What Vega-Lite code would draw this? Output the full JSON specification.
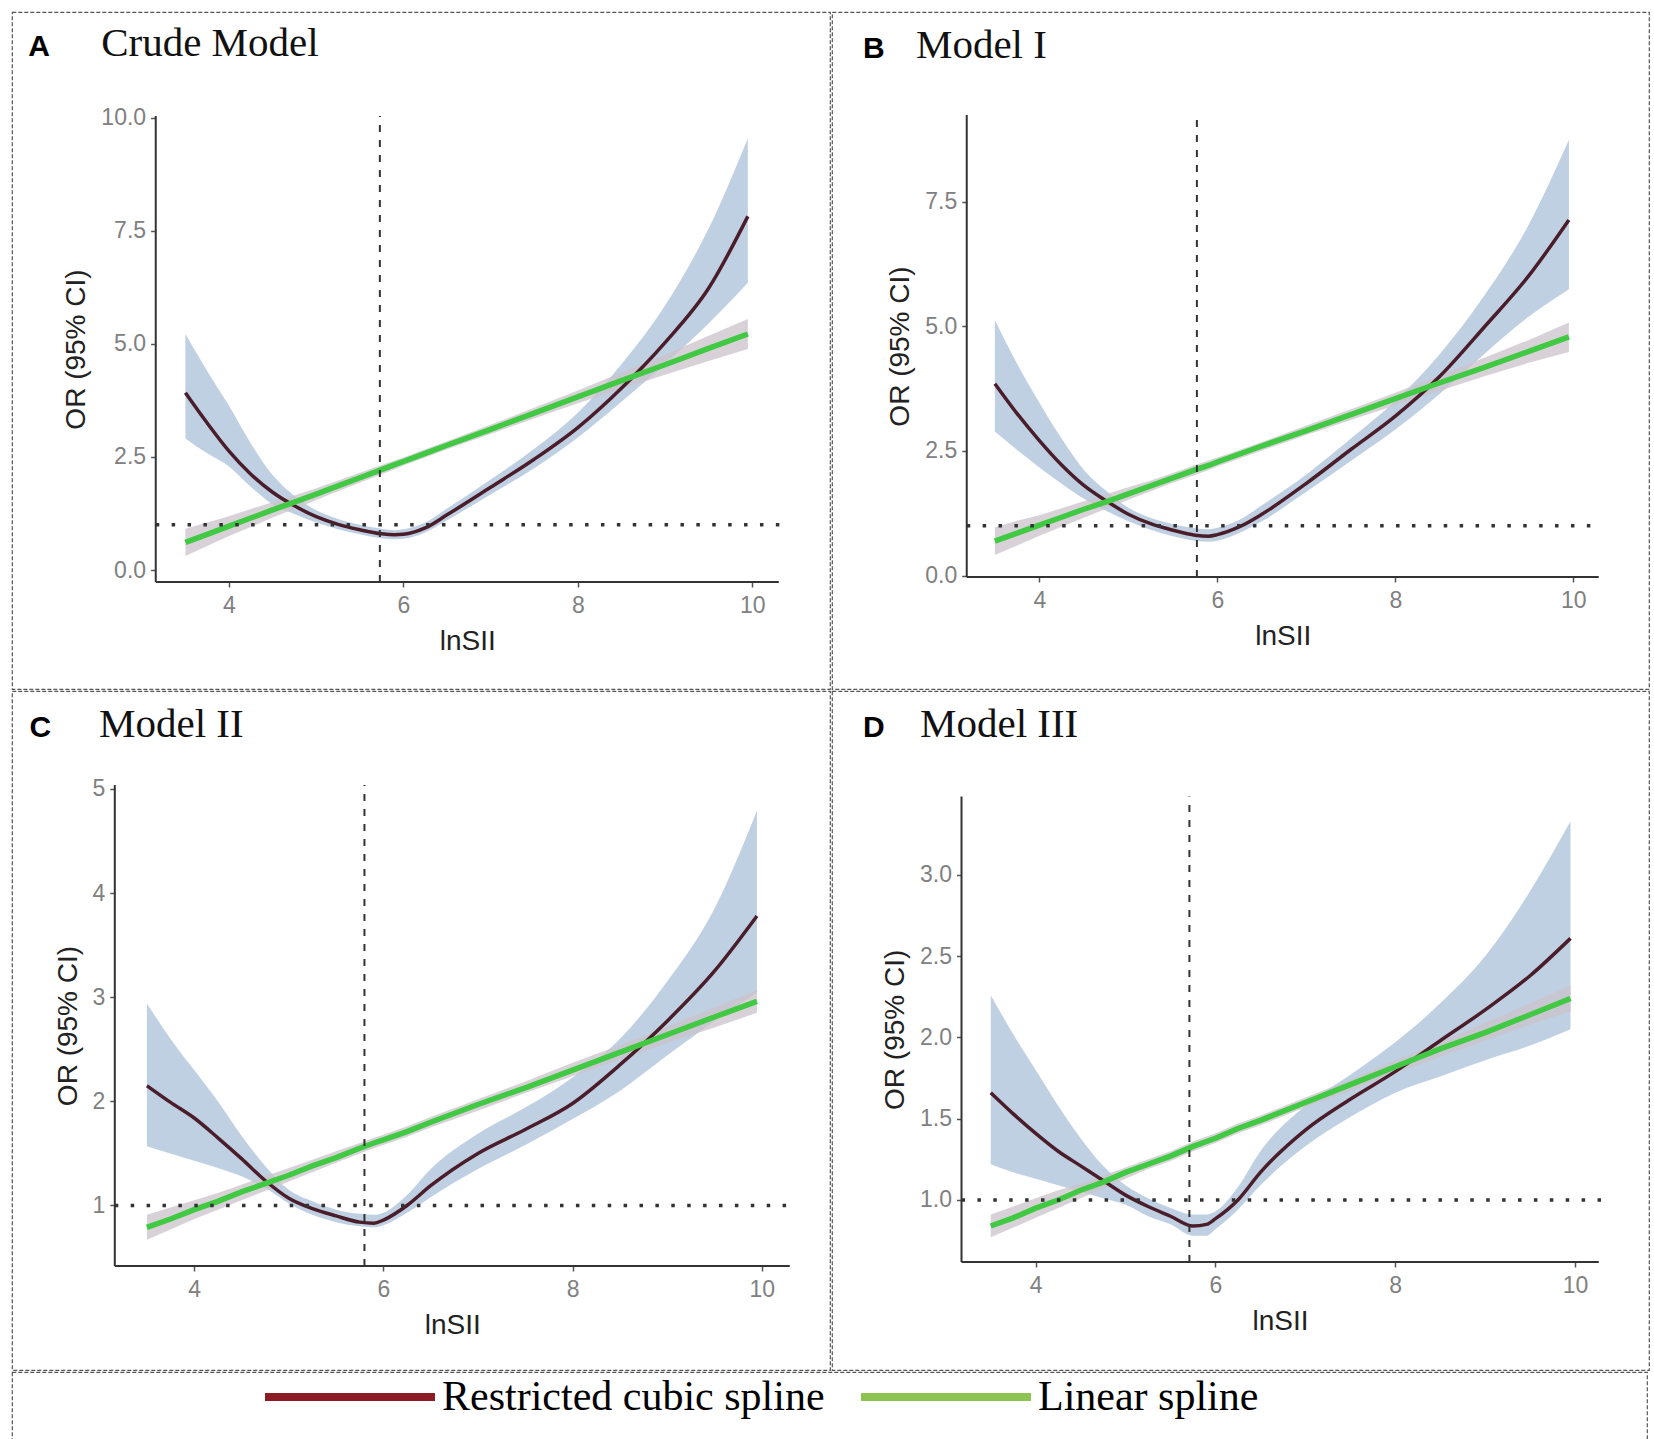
{
  "$schema": "https://vega.github.io/schema/vega-lite/v6.json",
  "background": "white",
  "padding": {"left": 11, "top": 11, "right": 0, "bottom": 0},
  "spacing": 0,
  "resolve": {"scale": {"color": "independent"}, "legend": {"color": "independent"}},
  "datasets": {
    "A": [
      {"x": 3.5, "rcs": 3.92, "rcs_lo": 2.91, "rcs_hi": 5.22, "lin": 0.61, "lin_lo": 0.31, "lin_hi": 0.91},
      {"x": 3.75, "rcs": 3.25, "rcs_lo": 2.58, "rcs_hi": 4.40, "lin": 0.79, "lin_lo": 0.53, "lin_hi": 1.05},
      {"x": 4.0, "rcs": 2.63, "rcs_lo": 2.29, "rcs_hi": 3.63, "lin": 0.97, "lin_lo": 0.75, "lin_hi": 1.19},
      {"x": 4.25, "rcs": 2.12, "rcs_lo": 1.84, "rcs_hi": 2.80, "lin": 1.15, "lin_lo": 0.95, "lin_hi": 1.35},
      {"x": 4.5, "rcs": 1.72, "rcs_lo": 1.45, "rcs_hi": 2.10, "lin": 1.33, "lin_lo": 1.16, "lin_hi": 1.50},
      {"x": 4.75, "rcs": 1.42, "rcs_lo": 1.24, "rcs_hi": 1.64, "lin": 1.50, "lin_lo": 1.35, "lin_hi": 1.65},
      {"x": 5.0, "rcs": 1.18, "rcs_lo": 1.05, "rcs_hi": 1.32, "lin": 1.68, "lin_lo": 1.55, "lin_hi": 1.81},
      {"x": 5.25, "rcs": 1.01, "rcs_lo": 0.90, "rcs_hi": 1.13, "lin": 1.86, "lin_lo": 1.74, "lin_hi": 1.98},
      {"x": 5.5, "rcs": 0.89, "rcs_lo": 0.79, "rcs_hi": 1.00, "lin": 2.04, "lin_lo": 1.93, "lin_hi": 2.15},
      {"x": 5.75, "rcs": 0.80, "rcs_lo": 0.70, "rcs_hi": 0.91, "lin": 2.22, "lin_lo": 2.12, "lin_hi": 2.32},
      {"x": 5.9, "rcs": 0.78, "rcs_lo": 0.68, "rcs_hi": 0.88, "lin": 2.33, "lin_lo": 2.23, "lin_hi": 2.42},
      {"x": 6.0, "rcs": 0.79, "rcs_lo": 0.69, "rcs_hi": 0.90, "lin": 2.40, "lin_lo": 2.31, "lin_hi": 2.49},
      {"x": 6.25, "rcs": 0.93, "rcs_lo": 0.83, "rcs_hi": 1.05, "lin": 2.58, "lin_lo": 2.49, "lin_hi": 2.67},
      {"x": 6.5, "rcs": 1.22, "rcs_lo": 1.10, "rcs_hi": 1.36, "lin": 2.76, "lin_lo": 2.67, "lin_hi": 2.85},
      {"x": 7.0, "rcs": 1.83, "rcs_lo": 1.67, "rcs_hi": 2.00, "lin": 3.11, "lin_lo": 3.01, "lin_hi": 3.21},
      {"x": 7.5, "rcs": 2.45, "rcs_lo": 2.25, "rcs_hi": 2.68, "lin": 3.47, "lin_lo": 3.35, "lin_hi": 3.59},
      {"x": 8.0, "rcs": 3.15, "rcs_lo": 2.93, "rcs_hi": 3.48, "lin": 3.83, "lin_lo": 3.69, "lin_hi": 3.97},
      {"x": 8.5, "rcs": 4.02, "rcs_lo": 3.72, "rcs_hi": 4.55, "lin": 4.19, "lin_lo": 4.01, "lin_hi": 4.37},
      {"x": 9.0, "rcs": 5.03, "rcs_lo": 4.55, "rcs_hi": 5.85, "lin": 4.54, "lin_lo": 4.32, "lin_hi": 4.76},
      {"x": 9.5, "rcs": 6.23, "rcs_lo": 5.45, "rcs_hi": 7.55, "lin": 4.90, "lin_lo": 4.62, "lin_hi": 5.18},
      {"x": 9.95, "rcs": 7.82, "rcs_lo": 6.35, "rcs_hi": 9.55, "lin": 5.22, "lin_lo": 4.89, "lin_hi": 5.55}
    ],
    "B": [
      {"x": 3.5, "rcs": 3.85, "rcs_lo": 2.89, "rcs_hi": 5.13, "lin": 0.69, "lin_lo": 0.41, "lin_hi": 0.97},
      {"x": 3.75, "rcs": 3.25, "rcs_lo": 2.52, "rcs_hi": 4.25, "lin": 0.85, "lin_lo": 0.60, "lin_hi": 1.10},
      {"x": 4.0, "rcs": 2.71, "rcs_lo": 2.17, "rcs_hi": 3.47, "lin": 1.01, "lin_lo": 0.80, "lin_hi": 1.21},
      {"x": 4.25, "rcs": 2.22, "rcs_lo": 1.84, "rcs_hi": 2.75, "lin": 1.17, "lin_lo": 0.98, "lin_hi": 1.35},
      {"x": 4.5, "rcs": 1.81, "rcs_lo": 1.54, "rcs_hi": 2.12, "lin": 1.33, "lin_lo": 1.16, "lin_hi": 1.49},
      {"x": 4.75, "rcs": 1.50, "rcs_lo": 1.30, "rcs_hi": 1.70, "lin": 1.48, "lin_lo": 1.34, "lin_hi": 1.63},
      {"x": 5.0, "rcs": 1.23, "rcs_lo": 1.09, "rcs_hi": 1.36, "lin": 1.64, "lin_lo": 1.52, "lin_hi": 1.77},
      {"x": 5.25, "rcs": 1.04, "rcs_lo": 0.92, "rcs_hi": 1.16, "lin": 1.80, "lin_lo": 1.69, "lin_hi": 1.91},
      {"x": 5.5, "rcs": 0.91, "rcs_lo": 0.79, "rcs_hi": 1.03, "lin": 1.96, "lin_lo": 1.86, "lin_hi": 2.06},
      {"x": 5.75, "rcs": 0.81, "rcs_lo": 0.70, "rcs_hi": 0.95, "lin": 2.12, "lin_lo": 2.02, "lin_hi": 2.22},
      {"x": 5.9, "rcs": 0.79, "rcs_lo": 0.68, "rcs_hi": 0.93, "lin": 2.21, "lin_lo": 2.12, "lin_hi": 2.31},
      {"x": 6.0, "rcs": 0.82, "rcs_lo": 0.70, "rcs_hi": 0.96, "lin": 2.28, "lin_lo": 2.19, "lin_hi": 2.37},
      {"x": 6.25, "rcs": 0.98, "rcs_lo": 0.86, "rcs_hi": 1.12, "lin": 2.44, "lin_lo": 2.35, "lin_hi": 2.52},
      {"x": 6.5, "rcs": 1.23, "rcs_lo": 1.09, "rcs_hi": 1.41, "lin": 2.60, "lin_lo": 2.51, "lin_hi": 2.68},
      {"x": 7.0, "rcs": 1.85, "rcs_lo": 1.68, "rcs_hi": 2.03, "lin": 2.91, "lin_lo": 2.82, "lin_hi": 3.01},
      {"x": 7.5, "rcs": 2.53, "rcs_lo": 2.30, "rcs_hi": 2.75, "lin": 3.23, "lin_lo": 3.12, "lin_hi": 3.34},
      {"x": 8.0, "rcs": 3.20, "rcs_lo": 2.93, "rcs_hi": 3.51, "lin": 3.55, "lin_lo": 3.42, "lin_hi": 3.67},
      {"x": 8.5, "rcs": 4.00, "rcs_lo": 3.65, "rcs_hi": 4.45, "lin": 3.87, "lin_lo": 3.71, "lin_hi": 4.02},
      {"x": 9.0, "rcs": 4.99, "rcs_lo": 4.45, "rcs_hi": 5.62, "lin": 4.18, "lin_lo": 4.00, "lin_hi": 4.37},
      {"x": 9.5, "rcs": 6.02, "rcs_lo": 5.20, "rcs_hi": 7.05, "lin": 4.50, "lin_lo": 4.27, "lin_hi": 4.73},
      {"x": 9.95, "rcs": 7.14, "rcs_lo": 5.75, "rcs_hi": 8.75, "lin": 4.79, "lin_lo": 4.49, "lin_hi": 5.08}
    ],
    "C": [
      {"x": 3.5, "rcs": 2.15, "rcs_lo": 1.57, "rcs_hi": 2.94, "lin": 0.79, "lin_lo": 0.67, "lin_hi": 0.91},
      {"x": 3.75, "rcs": 1.99, "rcs_lo": 1.50, "rcs_hi": 2.60, "lin": 0.87, "lin_lo": 0.77, "lin_hi": 0.98},
      {"x": 4.0, "rcs": 1.84, "rcs_lo": 1.43, "rcs_hi": 2.30, "lin": 0.96, "lin_lo": 0.87, "lin_hi": 1.05},
      {"x": 4.25, "rcs": 1.65, "rcs_lo": 1.36, "rcs_hi": 2.00, "lin": 1.04, "lin_lo": 0.96, "lin_hi": 1.12},
      {"x": 4.5, "rcs": 1.45, "rcs_lo": 1.28, "rcs_hi": 1.67, "lin": 1.13, "lin_lo": 1.05, "lin_hi": 1.20},
      {"x": 4.75, "rcs": 1.24, "rcs_lo": 1.17, "rcs_hi": 1.38, "lin": 1.21, "lin_lo": 1.14, "lin_hi": 1.28},
      {"x": 5.0, "rcs": 1.07, "rcs_lo": 1.02, "rcs_hi": 1.15, "lin": 1.29, "lin_lo": 1.23, "lin_hi": 1.36},
      {"x": 5.25, "rcs": 0.97, "rcs_lo": 0.91, "rcs_hi": 1.04, "lin": 1.38, "lin_lo": 1.32, "lin_hi": 1.44},
      {"x": 5.5, "rcs": 0.90, "rcs_lo": 0.84, "rcs_hi": 0.96, "lin": 1.46, "lin_lo": 1.41, "lin_hi": 1.52},
      {"x": 5.75, "rcs": 0.84, "rcs_lo": 0.80, "rcs_hi": 0.92, "lin": 1.55, "lin_lo": 1.50, "lin_hi": 1.60},
      {"x": 5.9, "rcs": 0.83, "rcs_lo": 0.79, "rcs_hi": 0.91, "lin": 1.60, "lin_lo": 1.55, "lin_hi": 1.65},
      {"x": 6.0, "rcs": 0.86, "rcs_lo": 0.81, "rcs_hi": 0.93, "lin": 1.63, "lin_lo": 1.58, "lin_hi": 1.68},
      {"x": 6.25, "rcs": 1.00, "rcs_lo": 0.93, "rcs_hi": 1.10, "lin": 1.71, "lin_lo": 1.66, "lin_hi": 1.76},
      {"x": 6.5, "rcs": 1.19, "rcs_lo": 1.08, "rcs_hi": 1.35, "lin": 1.80, "lin_lo": 1.75, "lin_hi": 1.85},
      {"x": 7.0, "rcs": 1.50, "rcs_lo": 1.35, "rcs_hi": 1.69, "lin": 1.97, "lin_lo": 1.91, "lin_hi": 2.02},
      {"x": 7.5, "rcs": 1.73, "rcs_lo": 1.58, "rcs_hi": 1.94, "lin": 2.13, "lin_lo": 2.08, "lin_hi": 2.19},
      {"x": 8.0, "rcs": 1.98, "rcs_lo": 1.83, "rcs_hi": 2.23, "lin": 2.30, "lin_lo": 2.24, "lin_hi": 2.37},
      {"x": 8.5, "rcs": 2.35, "rcs_lo": 2.10, "rcs_hi": 2.60, "lin": 2.47, "lin_lo": 2.40, "lin_hi": 2.54},
      {"x": 9.0, "rcs": 2.77, "rcs_lo": 2.44, "rcs_hi": 3.15, "lin": 2.64, "lin_lo": 2.56, "lin_hi": 2.72},
      {"x": 9.5, "rcs": 3.25, "rcs_lo": 2.77, "rcs_hi": 3.85, "lin": 2.81, "lin_lo": 2.71, "lin_hi": 2.90},
      {"x": 9.95, "rcs": 3.78, "rcs_lo": 3.04, "rcs_hi": 4.79, "lin": 2.96, "lin_lo": 2.85, "lin_hi": 3.07}
    ],
    "D": [
      {"x": 3.5, "rcs": 1.66, "rcs_lo": 1.22, "rcs_hi": 2.26, "lin": 0.84, "lin_lo": 0.77, "lin_hi": 0.91},
      {"x": 3.75, "rcs": 1.53, "rcs_lo": 1.17, "rcs_hi": 2.02, "lin": 0.89, "lin_lo": 0.83, "lin_hi": 0.96},
      {"x": 4.0, "rcs": 1.41, "rcs_lo": 1.13, "rcs_hi": 1.80, "lin": 0.95, "lin_lo": 0.89, "lin_hi": 1.01},
      {"x": 4.25, "rcs": 1.30, "rcs_lo": 1.09, "rcs_hi": 1.58, "lin": 1.00, "lin_lo": 0.95, "lin_hi": 1.06},
      {"x": 4.5, "rcs": 1.21, "rcs_lo": 1.05, "rcs_hi": 1.38, "lin": 1.06, "lin_lo": 1.01, "lin_hi": 1.10},
      {"x": 4.75, "rcs": 1.12, "rcs_lo": 1.01, "rcs_hi": 1.21, "lin": 1.11, "lin_lo": 1.07, "lin_hi": 1.15},
      {"x": 5.0, "rcs": 1.03, "rcs_lo": 0.97, "rcs_hi": 1.09, "lin": 1.17, "lin_lo": 1.13, "lin_hi": 1.20},
      {"x": 5.25, "rcs": 0.96, "rcs_lo": 0.90, "rcs_hi": 1.01, "lin": 1.22, "lin_lo": 1.19, "lin_hi": 1.25},
      {"x": 5.5, "rcs": 0.90, "rcs_lo": 0.85, "rcs_hi": 0.95, "lin": 1.27, "lin_lo": 1.24, "lin_hi": 1.30},
      {"x": 5.75, "rcs": 0.84, "rcs_lo": 0.78, "rcs_hi": 0.91, "lin": 1.33, "lin_lo": 1.30, "lin_hi": 1.36},
      {"x": 5.9, "rcs": 0.85, "rcs_lo": 0.78, "rcs_hi": 0.91, "lin": 1.36, "lin_lo": 1.33, "lin_hi": 1.39},
      {"x": 6.0, "rcs": 0.885, "rcs_lo": 0.82, "rcs_hi": 0.93, "lin": 1.38, "lin_lo": 1.35, "lin_hi": 1.41},
      {"x": 6.25, "rcs": 1.00, "rcs_lo": 0.94, "rcs_hi": 1.08, "lin": 1.44, "lin_lo": 1.41, "lin_hi": 1.47},
      {"x": 6.5, "rcs": 1.17, "rcs_lo": 1.09, "rcs_hi": 1.30, "lin": 1.49, "lin_lo": 1.46, "lin_hi": 1.52},
      {"x": 7.0, "rcs": 1.43, "rcs_lo": 1.33, "rcs_hi": 1.58, "lin": 1.60, "lin_lo": 1.57, "lin_hi": 1.63},
      {"x": 7.5, "rcs": 1.62, "rcs_lo": 1.51, "rcs_hi": 1.77, "lin": 1.71, "lin_lo": 1.67, "lin_hi": 1.74},
      {"x": 8.0, "rcs": 1.79, "rcs_lo": 1.66, "rcs_hi": 1.97, "lin": 1.82, "lin_lo": 1.78, "lin_hi": 1.86},
      {"x": 8.5, "rcs": 1.98, "rcs_lo": 1.76, "rcs_hi": 2.21, "lin": 1.93, "lin_lo": 1.88, "lin_hi": 1.97},
      {"x": 9.0, "rcs": 2.17, "rcs_lo": 1.86, "rcs_hi": 2.50, "lin": 2.03, "lin_lo": 1.98, "lin_hi": 2.09},
      {"x": 9.5, "rcs": 2.38, "rcs_lo": 1.95, "rcs_hi": 2.90, "lin": 2.14, "lin_lo": 2.08, "lin_hi": 2.21},
      {"x": 9.95, "rcs": 2.61, "rcs_lo": 2.05, "rcs_hi": 3.33, "lin": 2.24, "lin_lo": 2.16, "lin_hi": 2.32}
    ]
  },
  "vconcat": [
    {
      "spacing": 0,
      "hconcat": [
        {
          "width": 818,
          "height": 677,
          "view": {"stroke": "#555", "strokeDash": [4, 2], "strokeWidth": 1.2},
          "data": {"name": "A"},
          "layer": [
            {
              "mark": {"type": "area", "interpolate": "monotone", "color": "#b9cbe0", "opacity": 0.9},
              "encoding": {
                "x": {"field": "x", "type": "quantitative", "scale": {"domain": [1.5115, 10.892], "nice": false, "zero": false}, "axis": {"values": [4, 6, 8, 10], "format": "d", "labelFlush": false, "labelPadding": 7, "titlePadding": 10, "domain": false, "offset": -107, "titleX": 455.3}, "title": "lnSII"},
                "y": {"field": "rcs_lo", "type": "quantitative", "scale": {"domain": [-2.631, 12.34], "nice": false, "zero": false}, "axis": {"values": [0, 2.5, 5, 7.5, 10], "format": ".1f", "labelPadding": 5, "titlePadding": 10, "domain": false, "offset": -143.6, "titleY": 337}, "title": "OR (95% CI)"},
                "y2": {"field": "rcs_hi"}
              }
            },
            {
              "mark": {"type": "area", "color": "#cbc3cb", "opacity": 0.75},
              "encoding": {
                "x": {"field": "x", "type": "quantitative", "scale": {"domain": [1.5115, 10.892], "nice": false, "zero": false}, "axis": {"values": [4, 6, 8, 10], "format": "d", "labelFlush": false, "labelPadding": 7, "titlePadding": 10, "domain": false, "offset": -107, "titleX": 455.3}, "title": "lnSII"},
                "y": {"field": "lin_lo", "type": "quantitative", "scale": {"domain": [-2.631, 12.34], "nice": false, "zero": false}, "axis": {"values": [0, 2.5, 5, 7.5, 10], "format": ".1f", "labelPadding": 5, "titlePadding": 10, "domain": false, "offset": -143.6, "titleY": 337}, "title": "OR (95% CI)"},
                "y2": {"field": "lin_hi"}
              }
            },
            {
              "mark": {"type": "line", "interpolate": "monotone", "color": "#4a1d2b", "strokeWidth": 3.5},
              "encoding": {
                "x": {"field": "x", "type": "quantitative", "scale": {"domain": [1.5115, 10.892], "nice": false, "zero": false}, "axis": {"values": [4, 6, 8, 10], "format": "d", "labelFlush": false, "labelPadding": 7, "titlePadding": 10, "domain": false, "offset": -107, "titleX": 455.3}, "title": "lnSII"},
                "y": {"field": "rcs", "type": "quantitative", "scale": {"domain": [-2.631, 12.34], "nice": false, "zero": false}, "axis": {"values": [0, 2.5, 5, 7.5, 10], "format": ".1f", "labelPadding": 5, "titlePadding": 10, "domain": false, "offset": -143.6, "titleY": 337}, "title": "OR (95% CI)"}
              }
            },
            {
              "mark": {"type": "line", "color": "#41c943", "strokeWidth": 5.5},
              "encoding": {
                "x": {"field": "x", "type": "quantitative", "scale": {"domain": [1.5115, 10.892], "nice": false, "zero": false}, "axis": {"values": [4, 6, 8, 10], "format": "d", "labelFlush": false, "labelPadding": 7, "titlePadding": 10, "domain": false, "offset": -107, "titleX": 455.3}, "title": "lnSII"},
                "y": {"field": "lin", "type": "quantitative", "scale": {"domain": [-2.631, 12.34], "nice": false, "zero": false}, "axis": {"values": [0, 2.5, 5, 7.5, 10], "format": ".1f", "labelPadding": 5, "titlePadding": 10, "domain": false, "offset": -143.6, "titleY": 337}, "title": "OR (95% CI)"}
              }
            },
            {
              "data": {"values": [{}]},
              "mark": {"type": "rule", "color": "#333", "strokeWidth": 2},
              "encoding": {
                "x": {"datum": 3.16, "type": "quantitative", "scale": {"domain": [1.5115, 10.892], "nice": false, "zero": false}, "axis": {"values": [4, 6, 8, 10], "format": "d", "labelFlush": false, "labelPadding": 7, "titlePadding": 10, "domain": false, "offset": -107, "titleX": 455.3}, "title": "lnSII"},
                "x2": {"datum": 10.305},
                "y": {"datum": -0.265, "type": "quantitative", "scale": {"domain": [-2.631, 12.34], "nice": false, "zero": false}, "axis": {"values": [0, 2.5, 5, 7.5, 10], "format": ".1f", "labelPadding": 5, "titlePadding": 10, "domain": false, "offset": -143.6, "titleY": 337}, "title": "OR (95% CI)"}
              }
            },
            {
              "data": {"values": [{}]},
              "mark": {"type": "rule", "color": "#333", "strokeWidth": 2},
              "encoding": {
                "x": {"datum": 3.16, "type": "quantitative", "scale": {"domain": [1.5115, 10.892], "nice": false, "zero": false}, "axis": {"values": [4, 6, 8, 10], "format": "d", "labelFlush": false, "labelPadding": 7, "titlePadding": 10, "domain": false, "offset": -107, "titleX": 455.3}, "title": "lnSII"},
                "y": {"datum": -0.265, "type": "quantitative", "scale": {"domain": [-2.631, 12.34], "nice": false, "zero": false}, "axis": {"values": [0, 2.5, 5, 7.5, 10], "format": ".1f", "labelPadding": 5, "titlePadding": 10, "domain": false, "offset": -143.6, "titleY": 337}, "title": "OR (95% CI)"},
                "y2": {"datum": 10.04}
              }
            },
            {
              "data": {"values": [{}]},
              "mark": {"type": "rule", "color": "#333", "strokeWidth": 2, "strokeDash": [7, 8]},
              "encoding": {
                "x": {"datum": 5.73, "type": "quantitative", "scale": {"domain": [1.5115, 10.892], "nice": false, "zero": false}, "axis": {"values": [4, 6, 8, 10], "format": "d", "labelFlush": false, "labelPadding": 7, "titlePadding": 10, "domain": false, "offset": -107, "titleX": 455.3}, "title": "lnSII"},
                "y": {"datum": -0.265, "type": "quantitative", "scale": {"domain": [-2.631, 12.34], "nice": false, "zero": false}, "axis": {"values": [0, 2.5, 5, 7.5, 10], "format": ".1f", "labelPadding": 5, "titlePadding": 10, "domain": false, "offset": -143.6, "titleY": 337}, "title": "OR (95% CI)"},
                "y2": {"datum": 10.04}
              }
            },
            {
              "data": {"values": [{}]},
              "mark": {"type": "rule", "color": "#333", "strokeWidth": 3.5, "strokeDash": [3.5, 12.4]},
              "encoding": {
                "x": {"datum": 3.16, "type": "quantitative", "scale": {"domain": [1.5115, 10.892], "nice": false, "zero": false}, "axis": {"values": [4, 6, 8, 10], "format": "d", "labelFlush": false, "labelPadding": 7, "titlePadding": 10, "domain": false, "offset": -107, "titleX": 455.3}, "title": "lnSII"},
                "x2": {"datum": 10.34},
                "y": {"datum": 1, "type": "quantitative", "scale": {"domain": [-2.631, 12.34], "nice": false, "zero": false}, "axis": {"values": [0, 2.5, 5, 7.5, 10], "format": ".1f", "labelPadding": 5, "titlePadding": 10, "domain": false, "offset": -143.6, "titleY": 337}, "title": "OR (95% CI)"}
              }
            },
            {
              "data": {"values": [{}]},
              "mark": {"type": "text", "text": "A", "font": "Liberation Sans", "fontWeight": "bold", "fontSize": 30, "align": "left", "baseline": "alphabetic", "color": "#000"},
              "encoding": {
                "x": {"datum": 1.697, "type": "quantitative", "scale": {"domain": [1.5115, 10.892], "nice": false, "zero": false}, "axis": {"values": [4, 6, 8, 10], "format": "d", "labelFlush": false, "labelPadding": 7, "titlePadding": 10, "domain": false, "offset": -107, "titleX": 455.3}, "title": "lnSII"},
                "y": {"datum": 11.356, "type": "quantitative", "scale": {"domain": [-2.631, 12.34], "nice": false, "zero": false}, "axis": {"values": [0, 2.5, 5, 7.5, 10], "format": ".1f", "labelPadding": 5, "titlePadding": 10, "domain": false, "offset": -143.6, "titleY": 337}, "title": "OR (95% CI)"}
              }
            },
            {
              "data": {"values": [{}]},
              "mark": {"type": "text", "text": "Crude Model", "font": "Liberation Serif", "fontSize": 41, "align": "left", "baseline": "alphabetic", "color": "#111"},
              "encoding": {
                "x": {"datum": 2.534, "type": "quantitative", "scale": {"domain": [1.5115, 10.892], "nice": false, "zero": false}, "axis": {"values": [4, 6, 8, 10], "format": "d", "labelFlush": false, "labelPadding": 7, "titlePadding": 10, "domain": false, "offset": -107, "titleX": 455.3}, "title": "lnSII"},
                "y": {"datum": 11.356, "type": "quantitative", "scale": {"domain": [-2.631, 12.34], "nice": false, "zero": false}, "axis": {"values": [0, 2.5, 5, 7.5, 10], "format": ".1f", "labelPadding": 5, "titlePadding": 10, "domain": false, "offset": -143.6, "titleY": 337}, "title": "OR (95% CI)"}
              }
            }
          ]
        },
        {
          "width": 817,
          "height": 677,
          "view": {"stroke": "#555", "strokeDash": [4, 2], "strokeWidth": 1.2},
          "data": {"name": "B"},
          "layer": [
            {
              "mark": {"type": "area", "interpolate": "monotone", "color": "#b9cbe0", "opacity": 0.9},
              "encoding": {
                "x": {"field": "x", "type": "quantitative", "scale": {"domain": [1.67, 10.85], "nice": false, "zero": false}, "axis": {"values": [4, 6, 8, 10], "format": "d", "labelFlush": false, "labelPadding": 7, "titlePadding": 10, "domain": false, "offset": -112, "titleX": 450.8}, "title": "lnSII"},
                "y": {"field": "rcs_lo", "type": "quantitative", "scale": {"domain": [-2.279, 11.315], "nice": false, "zero": false}, "axis": {"values": [0, 2.5, 5, 7.5], "format": ".1f", "labelPadding": 5, "titlePadding": 10, "domain": false, "offset": -134.8, "titleY": 334}, "title": "OR (95% CI)"},
                "y2": {"field": "rcs_hi"}
              }
            },
            {
              "mark": {"type": "area", "color": "#cbc3cb", "opacity": 0.75},
              "encoding": {
                "x": {"field": "x", "type": "quantitative", "scale": {"domain": [1.67, 10.85], "nice": false, "zero": false}, "axis": {"values": [4, 6, 8, 10], "format": "d", "labelFlush": false, "labelPadding": 7, "titlePadding": 10, "domain": false, "offset": -112, "titleX": 450.8}, "title": "lnSII"},
                "y": {"field": "lin_lo", "type": "quantitative", "scale": {"domain": [-2.279, 11.315], "nice": false, "zero": false}, "axis": {"values": [0, 2.5, 5, 7.5], "format": ".1f", "labelPadding": 5, "titlePadding": 10, "domain": false, "offset": -134.8, "titleY": 334}, "title": "OR (95% CI)"},
                "y2": {"field": "lin_hi"}
              }
            },
            {
              "mark": {"type": "line", "interpolate": "monotone", "color": "#4a1d2b", "strokeWidth": 3.5},
              "encoding": {
                "x": {"field": "x", "type": "quantitative", "scale": {"domain": [1.67, 10.85], "nice": false, "zero": false}, "axis": {"values": [4, 6, 8, 10], "format": "d", "labelFlush": false, "labelPadding": 7, "titlePadding": 10, "domain": false, "offset": -112, "titleX": 450.8}, "title": "lnSII"},
                "y": {"field": "rcs", "type": "quantitative", "scale": {"domain": [-2.279, 11.315], "nice": false, "zero": false}, "axis": {"values": [0, 2.5, 5, 7.5], "format": ".1f", "labelPadding": 5, "titlePadding": 10, "domain": false, "offset": -134.8, "titleY": 334}, "title": "OR (95% CI)"}
              }
            },
            {
              "mark": {"type": "line", "color": "#41c943", "strokeWidth": 5.5},
              "encoding": {
                "x": {"field": "x", "type": "quantitative", "scale": {"domain": [1.67, 10.85], "nice": false, "zero": false}, "axis": {"values": [4, 6, 8, 10], "format": "d", "labelFlush": false, "labelPadding": 7, "titlePadding": 10, "domain": false, "offset": -112, "titleX": 450.8}, "title": "lnSII"},
                "y": {"field": "lin", "type": "quantitative", "scale": {"domain": [-2.279, 11.315], "nice": false, "zero": false}, "axis": {"values": [0, 2.5, 5, 7.5], "format": ".1f", "labelPadding": 5, "titlePadding": 10, "domain": false, "offset": -134.8, "titleY": 334}, "title": "OR (95% CI)"}
              }
            },
            {
              "data": {"values": [{}]},
              "mark": {"type": "rule", "color": "#333", "strokeWidth": 2},
              "encoding": {
                "x": {"datum": 3.184, "type": "quantitative", "scale": {"domain": [1.67, 10.85], "nice": false, "zero": false}, "axis": {"values": [4, 6, 8, 10], "format": "d", "labelFlush": false, "labelPadding": 7, "titlePadding": 10, "domain": false, "offset": -112, "titleX": 450.8}, "title": "lnSII"},
                "x2": {"datum": 10.285},
                "y": {"datum": -0.03, "type": "quantitative", "scale": {"domain": [-2.279, 11.315], "nice": false, "zero": false}, "axis": {"values": [0, 2.5, 5, 7.5], "format": ".1f", "labelPadding": 5, "titlePadding": 10, "domain": false, "offset": -134.8, "titleY": 334}, "title": "OR (95% CI)"}
              }
            },
            {
              "data": {"values": [{}]},
              "mark": {"type": "rule", "color": "#333", "strokeWidth": 2},
              "encoding": {
                "x": {"datum": 3.184, "type": "quantitative", "scale": {"domain": [1.67, 10.85], "nice": false, "zero": false}, "axis": {"values": [4, 6, 8, 10], "format": "d", "labelFlush": false, "labelPadding": 7, "titlePadding": 10, "domain": false, "offset": -112, "titleX": 450.8}, "title": "lnSII"},
                "y": {"datum": -0.03, "type": "quantitative", "scale": {"domain": [-2.279, 11.315], "nice": false, "zero": false}, "axis": {"values": [0, 2.5, 5, 7.5], "format": ".1f", "labelPadding": 5, "titlePadding": 10, "domain": false, "offset": -134.8, "titleY": 334}, "title": "OR (95% CI)"},
                "y2": {"datum": 9.247}
              }
            },
            {
              "data": {"values": [{}]},
              "mark": {"type": "rule", "color": "#333", "strokeWidth": 2, "strokeDash": [7, 8]},
              "encoding": {
                "x": {"datum": 5.77, "type": "quantitative", "scale": {"domain": [1.67, 10.85], "nice": false, "zero": false}, "axis": {"values": [4, 6, 8, 10], "format": "d", "labelFlush": false, "labelPadding": 7, "titlePadding": 10, "domain": false, "offset": -112, "titleX": 450.8}, "title": "lnSII"},
                "y": {"datum": -0.03, "type": "quantitative", "scale": {"domain": [-2.279, 11.315], "nice": false, "zero": false}, "axis": {"values": [0, 2.5, 5, 7.5], "format": ".1f", "labelPadding": 5, "titlePadding": 10, "domain": false, "offset": -134.8, "titleY": 334}, "title": "OR (95% CI)"},
                "y2": {"datum": 9.247}
              }
            },
            {
              "data": {"values": [{}]},
              "mark": {"type": "rule", "color": "#333", "strokeWidth": 3.5, "strokeDash": [3.5, 12.4]},
              "encoding": {
                "x": {"datum": 3.184, "type": "quantitative", "scale": {"domain": [1.67, 10.85], "nice": false, "zero": false}, "axis": {"values": [4, 6, 8, 10], "format": "d", "labelFlush": false, "labelPadding": 7, "titlePadding": 10, "domain": false, "offset": -112, "titleX": 450.8}, "title": "lnSII"},
                "x2": {"datum": 10.32},
                "y": {"datum": 1, "type": "quantitative", "scale": {"domain": [-2.279, 11.315], "nice": false, "zero": false}, "axis": {"values": [0, 2.5, 5, 7.5], "format": ".1f", "labelPadding": 5, "titlePadding": 10, "domain": false, "offset": -134.8, "titleY": 334}, "title": "OR (95% CI)"}
              }
            },
            {
              "data": {"values": [{}]},
              "mark": {"type": "text", "text": "B", "font": "Liberation Sans", "fontWeight": "bold", "fontSize": 30, "align": "left", "baseline": "alphabetic", "color": "#000"},
              "encoding": {
                "x": {"datum": 2.018, "type": "quantitative", "scale": {"domain": [1.67, 10.85], "nice": false, "zero": false}, "axis": {"values": [4, 6, 8, 10], "format": "d", "labelFlush": false, "labelPadding": 7, "titlePadding": 10, "domain": false, "offset": -112, "titleX": 450.8}, "title": "lnSII"},
                "y": {"datum": 10.392, "type": "quantitative", "scale": {"domain": [-2.279, 11.315], "nice": false, "zero": false}, "axis": {"values": [0, 2.5, 5, 7.5], "format": ".1f", "labelPadding": 5, "titlePadding": 10, "domain": false, "offset": -134.8, "titleY": 334}, "title": "OR (95% CI)"}
              }
            },
            {
              "data": {"values": [{}]},
              "mark": {"type": "text", "text": "Model I", "font": "Liberation Serif", "fontSize": 41, "align": "left", "baseline": "alphabetic", "color": "#111"},
              "encoding": {
                "x": {"datum": 2.613, "type": "quantitative", "scale": {"domain": [1.67, 10.85], "nice": false, "zero": false}, "axis": {"values": [4, 6, 8, 10], "format": "d", "labelFlush": false, "labelPadding": 7, "titlePadding": 10, "domain": false, "offset": -112, "titleX": 450.8}, "title": "lnSII"},
                "y": {"datum": 10.392, "type": "quantitative", "scale": {"domain": [-2.279, 11.315], "nice": false, "zero": false}, "axis": {"values": [0, 2.5, 5, 7.5], "format": ".1f", "labelPadding": 5, "titlePadding": 10, "domain": false, "offset": -134.8, "titleY": 334}, "title": "OR (95% CI)"}
              }
            }
          ]
        }
      ]
    },
    {
      "spacing": 0,
      "hconcat": [
        {
          "width": 818,
          "height": 679,
          "view": {"stroke": "#555", "strokeDash": [4, 2], "strokeWidth": 1.2},
          "data": {"name": "C"},
          "layer": [
            {
              "mark": {"type": "area", "interpolate": "monotone", "color": "#b9cbe0", "opacity": 0.9},
              "encoding": {
                "x": {"field": "x", "type": "quantitative", "scale": {"domain": [2.0736, 10.7223], "nice": false, "zero": false}, "axis": {"values": [4, 6, 8, 10], "format": "d", "labelFlush": false, "labelPadding": 7, "titlePadding": 10, "domain": false, "offset": -104, "titleX": 440.3}, "title": "lnSII"},
                "y": {"field": "rcs_lo", "type": "quantitative", "scale": {"domain": [-0.58, 5.941], "nice": false, "zero": false}, "axis": {"values": [1, 2, 3, 4, 5], "format": "d", "labelPadding": 5, "titlePadding": 10, "domain": false, "offset": -102.8, "titleY": 334.5}, "title": "OR (95% CI)"},
                "y2": {"field": "rcs_hi"}
              }
            },
            {
              "mark": {"type": "area", "color": "#cbc3cb", "opacity": 0.75},
              "encoding": {
                "x": {"field": "x", "type": "quantitative", "scale": {"domain": [2.0736, 10.7223], "nice": false, "zero": false}, "axis": {"values": [4, 6, 8, 10], "format": "d", "labelFlush": false, "labelPadding": 7, "titlePadding": 10, "domain": false, "offset": -104, "titleX": 440.3}, "title": "lnSII"},
                "y": {"field": "lin_lo", "type": "quantitative", "scale": {"domain": [-0.58, 5.941], "nice": false, "zero": false}, "axis": {"values": [1, 2, 3, 4, 5], "format": "d", "labelPadding": 5, "titlePadding": 10, "domain": false, "offset": -102.8, "titleY": 334.5}, "title": "OR (95% CI)"},
                "y2": {"field": "lin_hi"}
              }
            },
            {
              "mark": {"type": "line", "interpolate": "monotone", "color": "#4a1d2b", "strokeWidth": 3.5},
              "encoding": {
                "x": {"field": "x", "type": "quantitative", "scale": {"domain": [2.0736, 10.7223], "nice": false, "zero": false}, "axis": {"values": [4, 6, 8, 10], "format": "d", "labelFlush": false, "labelPadding": 7, "titlePadding": 10, "domain": false, "offset": -104, "titleX": 440.3}, "title": "lnSII"},
                "y": {"field": "rcs", "type": "quantitative", "scale": {"domain": [-0.58, 5.941], "nice": false, "zero": false}, "axis": {"values": [1, 2, 3, 4, 5], "format": "d", "labelPadding": 5, "titlePadding": 10, "domain": false, "offset": -102.8, "titleY": 334.5}, "title": "OR (95% CI)"}
              }
            },
            {
              "mark": {"type": "line", "color": "#41c943", "strokeWidth": 5.5},
              "encoding": {
                "x": {"field": "x", "type": "quantitative", "scale": {"domain": [2.0736, 10.7223], "nice": false, "zero": false}, "axis": {"values": [4, 6, 8, 10], "format": "d", "labelFlush": false, "labelPadding": 7, "titlePadding": 10, "domain": false, "offset": -104, "titleX": 440.3}, "title": "lnSII"},
                "y": {"field": "lin", "type": "quantitative", "scale": {"domain": [-0.58, 5.941], "nice": false, "zero": false}, "axis": {"values": [1, 2, 3, 4, 5], "format": "d", "labelPadding": 5, "titlePadding": 10, "domain": false, "offset": -102.8, "titleY": 334.5}, "title": "OR (95% CI)"}
              }
            },
            {
              "data": {"values": [{}]},
              "mark": {"type": "rule", "color": "#333", "strokeWidth": 2},
              "encoding": {
                "x": {"datum": 3.1605, "type": "quantitative", "scale": {"domain": [2.0736, 10.7223], "nice": false, "zero": false}, "axis": {"values": [4, 6, 8, 10], "format": "d", "labelFlush": false, "labelPadding": 7, "titlePadding": 10, "domain": false, "offset": -104, "titleX": 440.3}, "title": "lnSII"},
                "x2": {"datum": 10.297},
                "y": {"datum": 0.419, "type": "quantitative", "scale": {"domain": [-0.58, 5.941], "nice": false, "zero": false}, "axis": {"values": [1, 2, 3, 4, 5], "format": "d", "labelPadding": 5, "titlePadding": 10, "domain": false, "offset": -102.8, "titleY": 334.5}, "title": "OR (95% CI)"}
              }
            },
            {
              "data": {"values": [{}]},
              "mark": {"type": "rule", "color": "#333", "strokeWidth": 2},
              "encoding": {
                "x": {"datum": 3.1605, "type": "quantitative", "scale": {"domain": [2.0736, 10.7223], "nice": false, "zero": false}, "axis": {"values": [4, 6, 8, 10], "format": "d", "labelFlush": false, "labelPadding": 7, "titlePadding": 10, "domain": false, "offset": -104, "titleX": 440.3}, "title": "lnSII"},
                "y": {"datum": 0.419, "type": "quantitative", "scale": {"domain": [-0.58, 5.941], "nice": false, "zero": false}, "axis": {"values": [1, 2, 3, 4, 5], "format": "d", "labelPadding": 5, "titlePadding": 10, "domain": false, "offset": -102.8, "titleY": 334.5}, "title": "OR (95% CI)"},
                "y2": {"datum": 5.038}
              }
            },
            {
              "data": {"values": [{}]},
              "mark": {"type": "rule", "color": "#333", "strokeWidth": 2, "strokeDash": [7, 8]},
              "encoding": {
                "x": {"datum": 5.8, "type": "quantitative", "scale": {"domain": [2.0736, 10.7223], "nice": false, "zero": false}, "axis": {"values": [4, 6, 8, 10], "format": "d", "labelFlush": false, "labelPadding": 7, "titlePadding": 10, "domain": false, "offset": -104, "titleX": 440.3}, "title": "lnSII"},
                "y": {"datum": 0.419, "type": "quantitative", "scale": {"domain": [-0.58, 5.941], "nice": false, "zero": false}, "axis": {"values": [1, 2, 3, 4, 5], "format": "d", "labelPadding": 5, "titlePadding": 10, "domain": false, "offset": -102.8, "titleY": 334.5}, "title": "OR (95% CI)"},
                "y2": {"datum": 5.038}
              }
            },
            {
              "data": {"values": [{}]},
              "mark": {"type": "rule", "color": "#333", "strokeWidth": 3.5, "strokeDash": [3.5, 12.4]},
              "encoding": {
                "x": {"datum": 3.1605, "type": "quantitative", "scale": {"domain": [2.0736, 10.7223], "nice": false, "zero": false}, "axis": {"values": [4, 6, 8, 10], "format": "d", "labelFlush": false, "labelPadding": 7, "titlePadding": 10, "domain": false, "offset": -104, "titleX": 440.3}, "title": "lnSII"},
                "x2": {"datum": 10.33},
                "y": {"datum": 1, "type": "quantitative", "scale": {"domain": [-0.58, 5.941], "nice": false, "zero": false}, "axis": {"values": [1, 2, 3, 4, 5], "format": "d", "labelPadding": 5, "titlePadding": 10, "domain": false, "offset": -102.8, "titleY": 334.5}, "title": "OR (95% CI)"}
              }
            },
            {
              "data": {"values": [{}]},
              "mark": {"type": "text", "text": "C", "font": "Liberation Sans", "fontWeight": "bold", "fontSize": 30, "align": "left", "baseline": "alphabetic", "color": "#000"},
              "encoding": {
                "x": {"datum": 2.2585, "type": "quantitative", "scale": {"domain": [2.0736, 10.7223], "nice": false, "zero": false}, "axis": {"values": [4, 6, 8, 10], "format": "d", "labelFlush": false, "labelPadding": 7, "titlePadding": 10, "domain": false, "offset": -104, "titleX": 440.3}, "title": "lnSII"},
                "y": {"datum": 5.499, "type": "quantitative", "scale": {"domain": [-0.58, 5.941], "nice": false, "zero": false}, "axis": {"values": [1, 2, 3, 4, 5], "format": "d", "labelPadding": 5, "titlePadding": 10, "domain": false, "offset": -102.8, "titleY": 334.5}, "title": "OR (95% CI)"}
              }
            },
            {
              "data": {"values": [{}]},
              "mark": {"type": "text", "text": "Model II", "font": "Liberation Serif", "fontSize": 41, "align": "left", "baseline": "alphabetic", "color": "#111"},
              "encoding": {
                "x": {"datum": 2.9935, "type": "quantitative", "scale": {"domain": [2.0736, 10.7223], "nice": false, "zero": false}, "axis": {"values": [4, 6, 8, 10], "format": "d", "labelFlush": false, "labelPadding": 7, "titlePadding": 10, "domain": false, "offset": -104, "titleX": 440.3}, "title": "lnSII"},
                "y": {"datum": 5.499, "type": "quantitative", "scale": {"domain": [-0.58, 5.941], "nice": false, "zero": false}, "axis": {"values": [1, 2, 3, 4, 5], "format": "d", "labelPadding": 5, "titlePadding": 10, "domain": false, "offset": -102.8, "titleY": 334.5}, "title": "OR (95% CI)"}
              }
            }
          ]
        },
        {
          "width": 817,
          "height": 679,
          "view": {"stroke": "#555", "strokeDash": [4, 2], "strokeWidth": 1.2},
          "data": {"name": "D"},
          "layer": [
            {
              "mark": {"type": "area", "interpolate": "monotone", "color": "#b9cbe0", "opacity": 0.9},
              "encoding": {
                "x": {"field": "x", "type": "quantitative", "scale": {"domain": [1.7336, 10.8235], "nice": false, "zero": false}, "axis": {"values": [4, 6, 8, 10], "format": "d", "labelFlush": false, "labelPadding": 7, "titlePadding": 10, "domain": false, "offset": -108, "titleX": 448}, "title": "lnSII"},
                "y": {"field": "rcs_lo", "type": "quantitative", "scale": {"domain": [-0.0462, 4.1323], "nice": false, "zero": false}, "axis": {"values": [1, 1.5, 2, 2.5, 3], "format": ".1f", "labelPadding": 5, "titlePadding": 10, "domain": false, "offset": -129.5, "titleY": 338.3}, "title": "OR (95% CI)"},
                "y2": {"field": "rcs_hi"}
              }
            },
            {
              "mark": {"type": "area", "color": "#cbc3cb", "opacity": 0.75},
              "encoding": {
                "x": {"field": "x", "type": "quantitative", "scale": {"domain": [1.7336, 10.8235], "nice": false, "zero": false}, "axis": {"values": [4, 6, 8, 10], "format": "d", "labelFlush": false, "labelPadding": 7, "titlePadding": 10, "domain": false, "offset": -108, "titleX": 448}, "title": "lnSII"},
                "y": {"field": "lin_lo", "type": "quantitative", "scale": {"domain": [-0.0462, 4.1323], "nice": false, "zero": false}, "axis": {"values": [1, 1.5, 2, 2.5, 3], "format": ".1f", "labelPadding": 5, "titlePadding": 10, "domain": false, "offset": -129.5, "titleY": 338.3}, "title": "OR (95% CI)"},
                "y2": {"field": "lin_hi"}
              }
            },
            {
              "mark": {"type": "line", "interpolate": "monotone", "color": "#4a1d2b", "strokeWidth": 3.5},
              "encoding": {
                "x": {"field": "x", "type": "quantitative", "scale": {"domain": [1.7336, 10.8235], "nice": false, "zero": false}, "axis": {"values": [4, 6, 8, 10], "format": "d", "labelFlush": false, "labelPadding": 7, "titlePadding": 10, "domain": false, "offset": -108, "titleX": 448}, "title": "lnSII"},
                "y": {"field": "rcs", "type": "quantitative", "scale": {"domain": [-0.0462, 4.1323], "nice": false, "zero": false}, "axis": {"values": [1, 1.5, 2, 2.5, 3], "format": ".1f", "labelPadding": 5, "titlePadding": 10, "domain": false, "offset": -129.5, "titleY": 338.3}, "title": "OR (95% CI)"}
              }
            },
            {
              "mark": {"type": "line", "color": "#41c943", "strokeWidth": 5.5},
              "encoding": {
                "x": {"field": "x", "type": "quantitative", "scale": {"domain": [1.7336, 10.8235], "nice": false, "zero": false}, "axis": {"values": [4, 6, 8, 10], "format": "d", "labelFlush": false, "labelPadding": 7, "titlePadding": 10, "domain": false, "offset": -108, "titleX": 448}, "title": "lnSII"},
                "y": {"field": "lin", "type": "quantitative", "scale": {"domain": [-0.0462, 4.1323], "nice": false, "zero": false}, "axis": {"values": [1, 1.5, 2, 2.5, 3], "format": ".1f", "labelPadding": 5, "titlePadding": 10, "domain": false, "offset": -129.5, "titleY": 338.3}, "title": "OR (95% CI)"}
              }
            },
            {
              "data": {"values": [{}]},
              "mark": {"type": "rule", "color": "#333", "strokeWidth": 2},
              "encoding": {
                "x": {"datum": 3.1745, "type": "quantitative", "scale": {"domain": [1.7336, 10.8235], "nice": false, "zero": false}, "axis": {"values": [4, 6, 8, 10], "format": "d", "labelFlush": false, "labelPadding": 7, "titlePadding": 10, "domain": false, "offset": -108, "titleX": 448}, "title": "lnSII"},
                "x2": {"datum": 10.265},
                "y": {"datum": 0.6185, "type": "quantitative", "scale": {"domain": [-0.0462, 4.1323], "nice": false, "zero": false}, "axis": {"values": [1, 1.5, 2, 2.5, 3], "format": ".1f", "labelPadding": 5, "titlePadding": 10, "domain": false, "offset": -129.5, "titleY": 338.3}, "title": "OR (95% CI)"}
              }
            },
            {
              "data": {"values": [{}]},
              "mark": {"type": "rule", "color": "#333", "strokeWidth": 2},
              "encoding": {
                "x": {"datum": 3.1745, "type": "quantitative", "scale": {"domain": [1.7336, 10.8235], "nice": false, "zero": false}, "axis": {"values": [4, 6, 8, 10], "format": "d", "labelFlush": false, "labelPadding": 7, "titlePadding": 10, "domain": false, "offset": -108, "titleX": 448}, "title": "lnSII"},
                "y": {"datum": 0.6185, "type": "quantitative", "scale": {"domain": [-0.0462, 4.1323], "nice": false, "zero": false}, "axis": {"values": [1, 1.5, 2, 2.5, 3], "format": ".1f", "labelPadding": 5, "titlePadding": 10, "domain": false, "offset": -129.5, "titleY": 338.3}, "title": "OR (95% CI)"},
                "y2": {"datum": 3.4825}
              }
            },
            {
              "data": {"values": [{}]},
              "mark": {"type": "rule", "color": "#333", "strokeWidth": 2, "strokeDash": [7, 8]},
              "encoding": {
                "x": {"datum": 5.71, "type": "quantitative", "scale": {"domain": [1.7336, 10.8235], "nice": false, "zero": false}, "axis": {"values": [4, 6, 8, 10], "format": "d", "labelFlush": false, "labelPadding": 7, "titlePadding": 10, "domain": false, "offset": -108, "titleX": 448}, "title": "lnSII"},
                "y": {"datum": 0.6185, "type": "quantitative", "scale": {"domain": [-0.0462, 4.1323], "nice": false, "zero": false}, "axis": {"values": [1, 1.5, 2, 2.5, 3], "format": ".1f", "labelPadding": 5, "titlePadding": 10, "domain": false, "offset": -129.5, "titleY": 338.3}, "title": "OR (95% CI)"},
                "y2": {"datum": 3.4825}
              }
            },
            {
              "data": {"values": [{}]},
              "mark": {"type": "rule", "color": "#333", "strokeWidth": 3.5, "strokeDash": [3.5, 12.4]},
              "encoding": {
                "x": {"datum": 3.1745, "type": "quantitative", "scale": {"domain": [1.7336, 10.8235], "nice": false, "zero": false}, "axis": {"values": [4, 6, 8, 10], "format": "d", "labelFlush": false, "labelPadding": 7, "titlePadding": 10, "domain": false, "offset": -108, "titleX": 448}, "title": "lnSII"},
                "x2": {"datum": 10.3},
                "y": {"datum": 1, "type": "quantitative", "scale": {"domain": [-0.0462, 4.1323], "nice": false, "zero": false}, "axis": {"values": [1, 1.5, 2, 2.5, 3], "format": ".1f", "labelPadding": 5, "titlePadding": 10, "domain": false, "offset": -129.5, "titleY": 338.3}, "title": "OR (95% CI)"}
              }
            },
            {
              "data": {"values": [{}]},
              "mark": {"type": "text", "text": "D", "font": "Liberation Sans", "fontWeight": "bold", "fontSize": 30, "align": "left", "baseline": "alphabetic", "color": "#000"},
              "encoding": {
                "x": {"datum": 2.0785, "type": "quantitative", "scale": {"domain": [1.7336, 10.8235], "nice": false, "zero": false}, "axis": {"values": [4, 6, 8, 10], "format": "d", "labelFlush": false, "labelPadding": 7, "titlePadding": 10, "domain": false, "offset": -108, "titleX": 448}, "title": "lnSII"},
                "y": {"datum": 3.8493, "type": "quantitative", "scale": {"domain": [-0.0462, 4.1323], "nice": false, "zero": false}, "axis": {"values": [1, 1.5, 2, 2.5, 3], "format": ".1f", "labelPadding": 5, "titlePadding": 10, "domain": false, "offset": -129.5, "titleY": 338.3}, "title": "OR (95% CI)"}
              }
            },
            {
              "data": {"values": [{}]},
              "mark": {"type": "text", "text": "Model III", "font": "Liberation Serif", "fontSize": 41, "align": "left", "baseline": "alphabetic", "color": "#111"},
              "encoding": {
                "x": {"datum": 2.7128, "type": "quantitative", "scale": {"domain": [1.7336, 10.8235], "nice": false, "zero": false}, "axis": {"values": [4, 6, 8, 10], "format": "d", "labelFlush": false, "labelPadding": 7, "titlePadding": 10, "domain": false, "offset": -108, "titleX": 448}, "title": "lnSII"},
                "y": {"datum": 3.8493, "type": "quantitative", "scale": {"domain": [-0.0462, 4.1323], "nice": false, "zero": false}, "axis": {"values": [1, 1.5, 2, 2.5, 3], "format": ".1f", "labelPadding": 5, "titlePadding": 10, "domain": false, "offset": -129.5, "titleY": 338.3}, "title": "OR (95% CI)"}
              }
            }
          ]
        }
      ]
    },
    {
      "width": 1635,
      "height": 68,
      "view": {"stroke": "#555", "strokeDash": [4, 2], "strokeWidth": 1.2},
      "data": {"values": [{"series": "Restricted cubic spline"}, {"series": "Linear spline"}]},
      "mark": {"type": "line"},
      "encoding": {
        "color": {
          "field": "series",
          "type": "nominal",
          "scale": {"domain": ["Restricted cubic spline", "Linear spline"], "range": ["#8b1c24", "#8dc451"]},
          "legend": {
            "orient": "none",
            "legendX": 317,
            "legendY": 4,
            "direction": "horizontal",
            "title": null,
            "padding": 0,
            "symbolType": "M-5,0H5",
            "symbolSize": 1156,
            "symbolStrokeWidth": 8,
            "symbolOpacity": 1,
            "labelFont": "Liberation Serif",
            "labelFontSize": 42,
            "labelColor": "#000",
            "labelLimit": 0,
            "labelOffset": 71,
            "columnPadding": 20
          }
        }
      }
    }
  ],
  "config": {
    "view": {"stroke": null},
    "axis": {
      "grid": false,
      "domainColor": "#333",
      "domainWidth": 2,
      "tickColor": "#555",
      "tickWidth": 1.5,
      "tickSize": 5,
      "labelColor": "#808080",
      "labelFont": "Liberation Sans",
      "labelFontSize": 23,
      "titleFont": "Liberation Sans",
      "titleFontSize": 28,
      "titleColor": "#222",
      "titleFontWeight": "normal"
    }
  }
}
